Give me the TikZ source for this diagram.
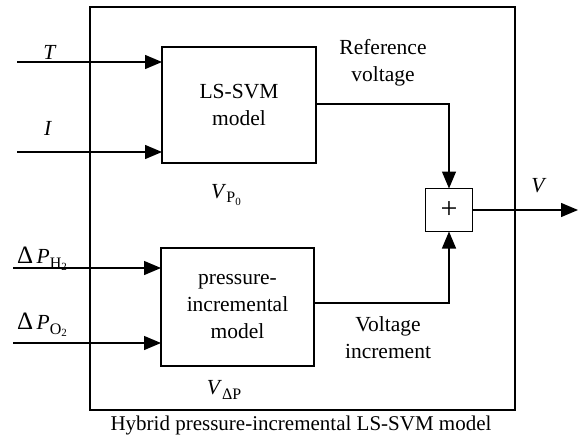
\documentclass[tikz,border=0pt]{standalone}
\usepackage{fontspec}
\setmainfont{Liberation Serif}
\usetikzlibrary{arrows.meta}
\newcommand{\subA}[1]{\raisebox{-0.45ex}{\fontsize{16}{16}\selectfont #1}}
\newcommand{\subB}[1]{\raisebox{-0.35ex}{\fontsize{11}{11}\selectfont #1}}
\newcommand{\bigDelta}{{\fontsize{25}{25}\selectfont Δ}}
\begin{document}
\begin{tikzpicture}[x=1pt,y=-1pt, line width=1.3pt,
  blk/.style={draw, line width=1.3pt, inner sep=0pt, outer sep=0pt, anchor=north west},
  lbl/.style={font=\fontsize{21.5}{27}\selectfont, align=center, inner sep=0pt},
  arr/.style={-{Triangle[length=17pt,width=14pt]}}]
\useasboundingbox (0,0) rectangle (578,439);
% boxes
\node[blk, minimum width=425pt, minimum height=403pt] (outer) at (90,7) {};
\node[blk, minimum width=154pt, minimum height=116pt] (lssvm) at (162,47) {};
\node[lbl] (lssvmtxt) at (lssvm.center) {LS-SVM\\model};
\node[blk, minimum width=153pt, minimum height=118pt] (press) at (161,248) {};
\node[lbl] (presstxt) at (press.center) {pressure-\\incremental\\model};
\node[blk, minimum width=47pt, minimum height=43pt] (plus) at (425.5,188.5) {};
\node[lbl, font=\fontsize{30}{30}\selectfont] (plustxt) at (plus.center) {+};
% free ends
\coordinate (tin) at (17,62);
\coordinate (iin) at (17,152);
\coordinate (hin) at (13,268);
\coordinate (oin) at (13,343);
\coordinate (vout) at (578,210);
% connectors
\draw[arr] (tin) -- (lssvm.west |- tin);
\draw[arr] (iin) -- (lssvm.west |- iin);
\draw[arr] (hin) -- (press.west |- hin);
\draw[arr] (oin) -- (press.west |- oin);
\draw[arr] ([yshift=1pt]lssvm.east) -| (plus.north);
\draw[arr] ([yshift=4pt]press.east) -| (plus.south);
\draw[arr] (plus.east) -- (vout);
% labels
\node[lbl] (tl) at (50,52) {\textit{T}};
\node[lbl] (il) at (48,128) {\textit{I}};
\node[lbl] (vp0) at (226,195) {\textit{V}\subA{P\subB{0}}};
\node[lbl] (refv) at (383,63) {Reference\\voltage};
\node[lbl] (vl) at (539,186) {\textit{V}};
\node[lbl] (dph) at (42,259) {\bigDelta\,\textit{P}\subA{H\subB{2}}};
\node[lbl] (dpo) at (42,325) {\bigDelta\,\textit{P}\subA{O\subB{2}}};
\node[lbl] (vdp) at (224,390) {\textit{V}\subA{ΔP}};
\node[lbl] (vinc) at (388,338) {Voltage\\increment};
\node[lbl, font=\fontsize{21}{26}\selectfont] (cap) at (301,425) {Hybrid pressure-incremental LS-SVM model};
\end{tikzpicture}
\end{document}
